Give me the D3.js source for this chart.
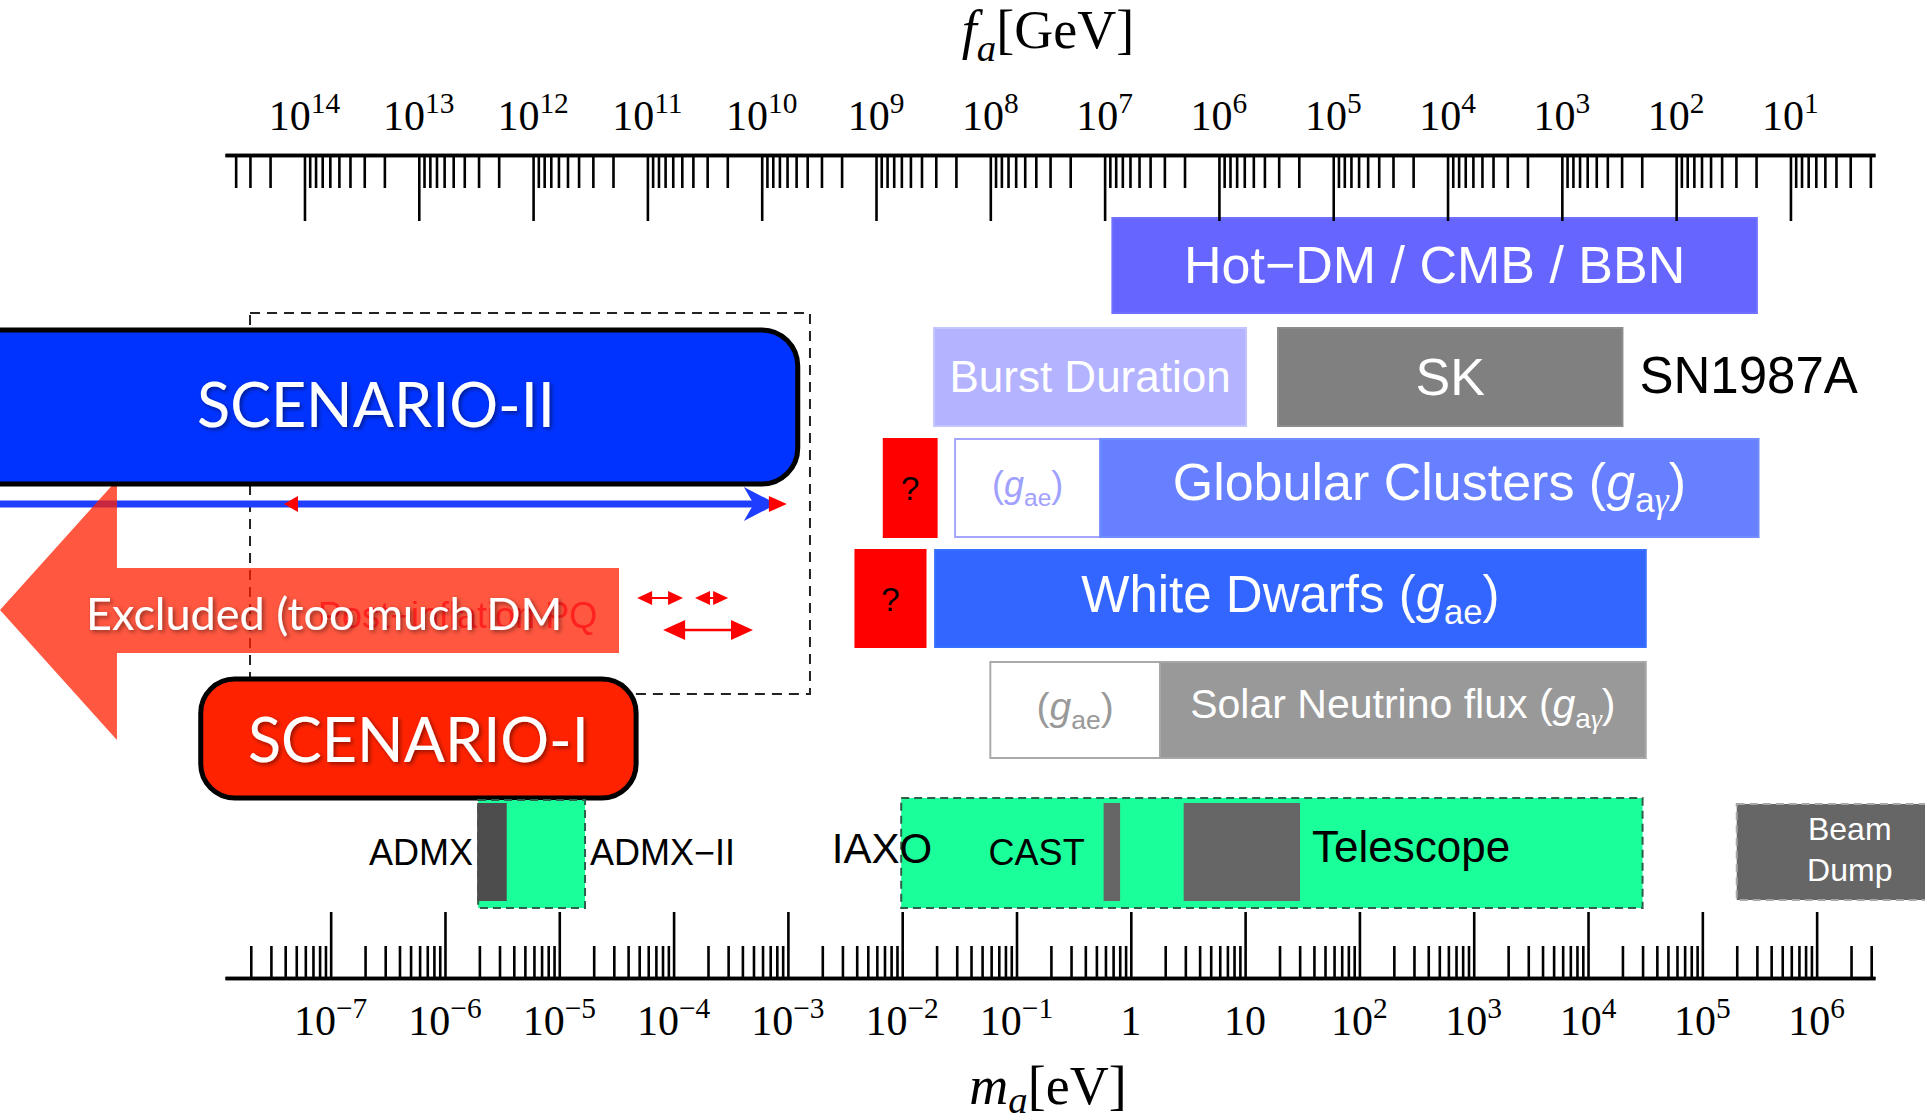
<!DOCTYPE html>
<html>
<head>
<meta charset="utf-8">
<script src="https://cdn.jsdelivr.net/npm/d3@7"></script>
<style>
  html, body { margin: 0; padding: 0; background: #fff; }
  svg { display: block; }
</style>
</head>
<body>
<svg id="chart" width="1925" height="1120"></svg>
<script>
// ---------------------------------------------------------------
// Axion landscape: mass m_a [eV] (bottom) vs decay constant f_a [GeV] (top)
// ---------------------------------------------------------------

// m_a * f_a  (eV * GeV)
const massTimesFa = 5.9e6;
// visible mass range of the axes [eV]
const massDomain = [1.19e-8, 3.24e6];

// tick labels
const faTickExponents   = [14, 13, 12, 11, 10, 9, 8, 7, 6, 5, 4, 3, 2, 1];
const massTickExponents = [-7, -6, -5, -4, -3, -2, -1, 0, 1, 2, 3, 4, 5, 6];

// cosmology bound [eV]
const cosmoBounds = [
  { id: "hotdm", label: "Hot−DM / CMB / BBN", lo: 0.69, hi: 3.0e5 }
];
// SN1987A bounds [eV]
const supernovaBounds = [
  { id: "burst", label: "Burst Duration", lo: 0.019, hi: 10.2 },
  { id: "sk",    label: "SK",             lo: 19.4,  hi: 2.0e4 }
];
// globular clusters [eV]
const clusterBounds = [
  { id: "gcq",  lo: 6.9e-3, hi: 0.020 },
  { id: "gcae", lo: 0.029,  hi: 0.54 },
  { id: "gcag", lo: 0.54,   hi: 3.1e5 }
];
// white dwarfs [eV]
const dwarfBounds = [
  { id: "wdq", lo: 3.9e-3, hi: 0.016 },
  { id: "wd",  lo: 0.0194, hi: 3.2e4 }
];
// solar neutrino flux [eV]
const solarBounds = [
  { id: "solae", lo: 0.059, hi: 1.8 },
  { id: "solag", lo: 1.8,   hi: 3.2e4 }
];
// haloscope reach [eV]
const haloscopes = [
  { id: "admx2", lo: 1.95e-6, hi: 1.68e-5 },
  { id: "admx",  lo: 1.95e-6, hi: 3.4e-6 }
];
// helioscope reach [eV]
const helioscopes = [
  { id: "iaxo",      lo: 9.8e-3, hi: 3.0e4 },
  { id: "cast",      lo: 0.59,   hi: 0.79 },
  { id: "telescope", lo: 2.96,   hi: 29.6 }
];
// beam dump [eV]
const beamDump = [{ id: "beam", lo: 2.0e5, hi: 1e8 }];

// cosmological scenarios [eV]
const scenarioII = [{ lo: 1e-11, hi: 1.22e-3 }];
const scenarioI  = [{ lo: 7.3e-9, hi: 4.7e-5 }];
const preInflationWindow = [{ lo: 1.97e-8, hi: 1.56e-3 }];
const scenarioIIArrow = [{ lo: 1e-11, hi: 8.0e-4 }];
const postInflationArrow = [{ lo: 3.9e-8, hi: 9.8e-4 }];
const postInflationRanges = [
  { lo: 4.8e-5, hi: 1.21e-4, row: "a" },
  { lo: 1.54e-4, hi: 3.0e-4, row: "a" },
  { lo: 8.1e-5, hi: 4.95e-4, row: "b" }
];
// overproduction: arrow tip, head base, tail [eV]
const excludedArrow = [{ tip: 1.28e-10, base: 1.35e-9, tail: 3.33e-5 }];

// ---------------------------------------------------------------
const svg = d3.select("#chart");
const SANS = "'Liberation Sans', Arial, Helvetica, sans-serif";
const SERIF = "'Liberation Serif', 'Times New Roman', serif";
const HUMANIST = "Lato, 'Open Sans', sans-serif";

const x = d3.scaleLog().domain(massDomain).range([225, 1875]);
const xf = d3.scaleLog().domain(massDomain.map(m => massTimesFa / m)).range([225, 1875]);

// row layout (pixels)
const rows = {
  hot:   { y: 218, h: 95 },
  sn:    { y: 328, h: 98 },
  gc:    { y: 439, h: 98 },
  wd:    { y: 550, h: 97 },
  solar: { y: 662, h: 96 },
  outer: { y: 798, h: 110 },
  inner: { y: 804, h: 96 }
};

const defs = svg.append("defs");
const shadow = defs.append("filter").attr("id", "textShadow")
  .attr("x", "-10%").attr("y", "-30%").attr("width", "130%").attr("height", "160%");
shadow.append("feDropShadow").attr("dx", 2).attr("dy", 2).attr("stdDeviation", 2)
  .attr("flood-color", "#000").attr("flood-opacity", 0.45);

// text with italic / sub / superscript pieces
function richText(g, px, py, parts, o) {
  const t = g.append("text").attr("x", px).attr("y", py)
    .attr("text-anchor", o.anchor || "middle")
    .attr("font-family", o.family).attr("font-size", o.size).attr("fill", o.fill || "#000");
  let shift = 0;
  parts.forEach(p => {
    const s = t.append("tspan").text(p.t);
    const target = p.sub ? o.size * (p.drop || 0.24) : p.sup ? -o.size * 0.40 : 0;
    if (target !== shift) { s.attr("dy", target - shift); shift = target; }
    if (p.sub || p.sup) s.attr("font-size", o.size * (p.scale || 0.68));
    if (p.italic) s.attr("font-style", "italic");
    if (p.family) s.attr("font-family", p.family);
  });
  return t;
}

function band(g, d, row, fill, stroke, extra) {
  const r = g.append("rect")
    .attr("x", x(d.lo)).attr("y", row.y)
    .attr("width", x(d.hi) - x(d.lo)).attr("height", row.h)
    .attr("fill", fill)
    .attr("stroke", stroke || d3.color(fill).brighter(0.25))
    .attr("stroke-width", 2);
  if (extra) extra(r);
  return r;
}
const midX = d => (x(d.lo) + x(d.hi)) / 2;
const midY = row => row.y + row.h / 2;

// ---------- pre-inflation window (dashed) ----------
const gScen = svg.append("g");
preInflationWindow.forEach(d => {
  gScen.append("rect")
    .attr("x", x(d.lo)).attr("y", 313)
    .attr("width", x(d.hi) - x(d.lo)).attr("height", 381)
    .attr("fill", "none").attr("stroke", "#222").attr("stroke-width", 2)
    .attr("stroke-dasharray", "10,7");
});

// ---------- post-inflation (red) ----------
const RED = "#ff0000";
function head(g, tipX, y, dir, len, half, fill, notch) {
  const b = tipX - dir * len;
  const n = tipX - dir * len * (1 - (notch || 0));
  g.append("path")
    .attr("d", `M${tipX},${y} L${b},${y - half} L${n},${y} L${b},${y + half} Z`)
    .attr("fill", fill);
}
function doubleArrow(g, x1, x2, y, len, half, w) {
  g.append("line").attr("x1", x1 + len * 0.6).attr("x2", x2 - len * 0.6)
    .attr("y1", y).attr("y2", y).attr("stroke", RED).attr("stroke-width", w);
  head(g, x1, y, -1, len, half, RED);
  head(g, x2, y, 1, len, half, RED);
}
postInflationArrow.forEach(d => {
  gScen.append("line").attr("x1", x(d.lo)).attr("x2", x(d.hi) - 10)
    .attr("y1", 504).attr("y2", 504).attr("stroke", RED).attr("stroke-width", 3);
});
postInflationRanges.forEach(d => {
  if (d.row === "a") doubleArrow(gScen, x(d.lo), x(d.hi), 598, 15, 7, 2);
  else doubleArrow(gScen, x(d.lo), x(d.hi), 630, 22, 10, 2.5);
});

// ---------- scenario-II arrow (blue) ----------
scenarioIIArrow.forEach(d => {
  const tip = x(d.hi);
  gScen.append("line").attr("x1", x(d.lo)).attr("x2", tip - 20)
    .attr("y1", 504).attr("y2", 504).attr("stroke", "#1f3dff").attr("stroke-width", 7);
  head(gScen, tip, 504, 1, 33, 17, "#1f3dff", 0.3);
});
postInflationArrow.forEach(d => {
  head(gScen, x(d.lo), 504, -1, 14, 8, RED);
  head(gScen, x(d.hi), 504, 1, 18, 8, RED);
});

// ---------- excluded arrow ----------
excludedArrow.forEach(d => {
  const tx = x(d.tip), bx = x(d.base), sx = x(d.tail);
  gScen.append("path")
    .attr("d", `M${tx},610 L${bx},480 L${bx},568 L${sx},568 L${sx},653 L${bx},653 L${bx},740 Z`)
    .attr("fill", "#ff1f00").attr("fill-opacity", 0.75);
});
gScen.append("text").attr("x", 318).attr("y", 628)
  .attr("font-family", SANS).attr("font-size", 36).attr("fill", "#ff1a1a")
  .attr("fill-opacity", 0.9)
  .text("Post−inflation PQ");
gScen.append("text").attr("x", 86).attr("y", 630)
  .attr("font-family", HUMANIST).attr("font-size", 45).attr("fill", "#fff")
  .attr("filter", "url(#textShadow)")
  .text("Excluded (too much DM");

// ---------- scenario boxes ----------
scenarioII.forEach(d => {
  gScen.append("rect").attr("x", x(d.lo)).attr("y", 330)
    .attr("width", x(d.hi) - x(d.lo)).attr("height", 154).attr("rx", 36)
    .attr("fill", "#0033ff").attr("stroke", "#000").attr("stroke-width", 5);
  gScen.append("text").attr("x", 376).attr("y", 427).attr("text-anchor", "middle")
    .attr("font-family", HUMANIST).attr("font-size", 61).attr("fill", "#fff")
    .attr("filter", "url(#textShadow)").text("SCENARIO-II");
});
scenarioI.forEach(d => {
  gScen.append("rect").attr("x", x(d.lo)).attr("y", 679)
    .attr("width", x(d.hi) - x(d.lo)).attr("height", 119).attr("rx", 34)
    .attr("fill", "#ff2200").attr("stroke", "#000").attr("stroke-width", 5);
  gScen.append("text").attr("x", midX(d)).attr("y", 762).attr("text-anchor", "middle")
    .attr("font-family", HUMANIST).attr("font-size", 61).attr("fill", "#fff")
    .attr("filter", "url(#textShadow)").text("SCENARIO-I");
});

// ---------- astrophysical / cosmological bounds ----------
const gB = svg.append("g");

cosmoBounds.forEach(d => {
  band(gB, d, rows.hot, "#6666ff");
  gB.append("text").attr("x", midX(d)).attr("y", midY(rows.hot) + 17)
    .attr("text-anchor", "middle").attr("font-family", SANS).attr("font-size", 52)
    .attr("fill", "#fff").text(d.label);
});

const snFill = { burst: "#b3b3ff", sk: "#808080" };
const snSize = { burst: 44, sk: 52 };
supernovaBounds.forEach(d => {
  band(gB, d, rows.sn, snFill[d.id]);
  gB.append("text").attr("x", midX(d)).attr("y", midY(rows.sn) + snSize[d.id] * 0.34)
    .attr("text-anchor", "middle").attr("font-family", SANS).attr("font-size", snSize[d.id])
    .attr("fill", "#fff").text(d.label);
});
gB.append("text").attr("x", x(supernovaBounds[1].hi) + 17).attr("y", 393)
  .attr("font-family", SANS).attr("font-size", 51).attr("fill", "#000").text("SN1987A");

function questionBox(d, row) {
  band(gB, d, row, "#ff0000");
  gB.append("text").attr("x", midX(d)).attr("y", midY(row) + 12)
    .attr("text-anchor", "middle").attr("font-family", SANS).attr("font-size", 33)
    .attr("fill", "#000").text("?");
}
const gae = [{ t: "(" }, { t: "g", italic: true }, { t: "ae", sub: true }, { t: ")" }];
const gag = [{ t: "(" }, { t: "g", italic: true }, { t: "a", sub: true },
             { t: "γ", sub: true, italic: true, family: SERIF }, { t: ")" }];

clusterBounds.forEach(d => {
  if (d.id === "gcq") questionBox(d, rows.gc);
  if (d.id === "gcae") {
    band(gB, d, rows.gc, "#ffffff", "#a6a6ff");
    richText(gB, midX(d), midY(rows.gc) + 9, gae, { family: SANS, size: 36, fill: "#a0a0ff" });
  }
  if (d.id === "gcag") {
    band(gB, d, rows.gc, "#6680ff");
    richText(gB, midX(d), midY(rows.gc) + 12,
      [{ t: "Globular Clusters " }].concat(gag), { family: SANS, size: 52, fill: "#fff" });
  }
});

dwarfBounds.forEach(d => {
  if (d.id === "wdq") questionBox(d, rows.wd);
  else {
    band(gB, d, rows.wd, "#3366ff");
    richText(gB, midX(d), midY(rows.wd) + 13,
      [{ t: "White Dwarfs " }].concat(gae), { family: SANS, size: 51, fill: "#fff" });
  }
});

solarBounds.forEach(d => {
  if (d.id === "solae") {
    band(gB, d, rows.solar, "#ffffff", "#aaaaaa");
    richText(gB, midX(d), midY(rows.solar) + 10, gae, { family: SANS, size: 39, fill: "#999" });
  } else {
    band(gB, d, rows.solar, "#999999");
    richText(gB, midX(d), midY(rows.solar) + 8,
      [{ t: "Solar Neutrino flux " }].concat(gag), { family: SANS, size: 41, fill: "#fff" });
  }
});

// ---------- experiments ----------
const GREEN = "#1aff99";
const dashedGreen = r => r.attr("stroke", "#2e5e4c").attr("stroke-dasharray", "8,5");

haloscopes.forEach(d => {
  if (d.id === "admx2") {
    band(gB, d, { y: 800, h: 108 }, GREEN, null, dashedGreen);
    gB.append("text").attr("x", x(d.hi) + 5).attr("y", 865)
      .attr("font-family", SANS).attr("font-size", 36).text("ADMX−II");
  } else {
    band(gB, d, rows.inner, "#4d4d4d", "#4d4d4d");
    gB.append("text").attr("x", x(d.lo) - 5).attr("y", 865).attr("text-anchor", "end")
      .attr("font-family", SANS).attr("font-size", 36).text("ADMX");
  }
});

helioscopes.forEach(d => {
  if (d.id === "iaxo") {
    band(gB, d, rows.outer, GREEN, null, dashedGreen);
  } else {
    band(gB, d, rows.inner, "#666666", "#666666");
  }
});
gB.append("text").attr("x", x(helioscopes[0].lo) + 31).attr("y", 863).attr("text-anchor", "end")
  .attr("font-family", SANS).attr("font-size", 42).text("IAXO");
gB.append("text").attr("x", x(helioscopes[1].lo) - 116).attr("y", 865)
  .attr("font-family", SANS).attr("font-size", 36).text("CAST");
gB.append("text").attr("x", x(helioscopes[2].hi) + 13).attr("y", 862)
  .attr("font-family", SANS).attr("font-size", 44).text("Telescope");

beamDump.forEach(d => {
  band(gB, d, rows.inner, "#666666", "#a8a8a8", r => r.attr("stroke-dasharray", "8,5"));
  const bx = x(d.lo) + 113;
  gB.append("text").attr("x", bx).attr("y", 840).attr("text-anchor", "middle")
    .attr("font-family", SANS).attr("font-size", 32).attr("fill", "#fff").text("Beam");
  gB.append("text").attr("x", bx).attr("y", 881).attr("text-anchor", "middle")
    .attr("font-family", SANS).attr("font-size", 32).attr("fill", "#fff").text("Dump");
});

// ---------- axes ----------
function logTickValues(scale) {
  const [a, b] = d3.extent(scale.domain());
  const out = [];
  for (let e = Math.floor(Math.log10(a)); e <= Math.ceil(Math.log10(b)); e++) {
    for (let k = 1; k < 10; k++) {
      const v = +(k * Math.pow(10, e)).toPrecision(6);
      if (v >= a && v <= b) out.push({ v, major: k === 1 });
    }
  }
  return out;
}
function styleAxis(g) {
  g.select(".domain").attr("stroke", "#000").attr("stroke-width", 3.5);
  g.selectAll(".tick line").attr("stroke", "#000").attr("stroke-width", 2.6);
}

// top: f_a
const fTicks = logTickValues(xf);
const gTop = svg.append("g").attr("transform", "translate(0,155)");
gTop.append("g").call(d3.axisBottom(xf).tickValues(fTicks.filter(t => !t.major).map(t => t.v))
  .tickSize(33).tickSizeOuter(0).tickFormat("")).call(styleAxis);
gTop.append("g").call(d3.axisBottom(xf).tickValues(fTicks.filter(t => t.major).map(t => t.v))
  .tickSize(66).tickSizeOuter(0).tickFormat("")).call(styleAxis);

faTickExponents.forEach(e => {
  richText(svg, xf(Math.pow(10, e)), 130,
    [{ t: "10" }, { t: String(e), sup: true, scale: 0.7 }], { family: SERIF, size: 42 });
});

// bottom: m_a
const mTicks = logTickValues(x);
const gBot = svg.append("g").attr("transform", "translate(0,978)");
gBot.append("g").call(d3.axisTop(x).tickValues(mTicks.filter(t => !t.major).map(t => t.v))
  .tickSize(32).tickSizeOuter(0).tickFormat("")).call(styleAxis);
gBot.append("g").call(d3.axisTop(x).tickValues(mTicks.filter(t => t.major).map(t => t.v))
  .tickSize(66).tickSizeOuter(0).tickFormat("")).call(styleAxis);

massTickExponents.forEach(e => {
  const px = x(Math.pow(10, e));
  if (e === 0) richText(svg, px, 1035, [{ t: "1" }], { family: SERIF, size: 42 });
  else if (e === 1) richText(svg, px, 1035, [{ t: "10" }], { family: SERIF, size: 42 });
  else richText(svg, px, 1035,
    [{ t: "10" }, { t: (e < 0 ? "−" : "") + Math.abs(e), sup: true, scale: 0.7 }],
    { family: SERIF, size: 42 });
});

// axis titles
richText(svg, 1048, 48,
  [{ t: "f", italic: true }, { t: "a", sub: true, italic: true, scale: 0.72 }, { t: "[GeV]" }],
  { family: SERIF, size: 54 });
richText(svg, 1048, 1104,
  [{ t: "m", italic: true }, { t: "a", sub: true, italic: true, scale: 0.72, drop: 0.16 }, { t: "[eV]" }],
  { family: SERIF, size: 54 });
</script>
</body>
</html>
